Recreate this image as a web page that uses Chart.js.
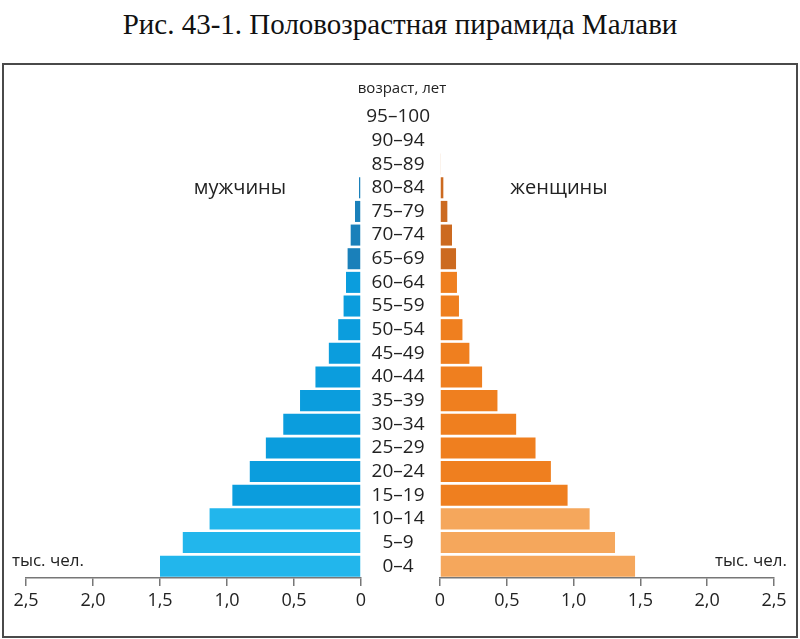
<!DOCTYPE html>
<html lang="ru">
<head>
<meta charset="utf-8">
<script src="https://cdn.jsdelivr.net/npm/chart.js@4.4.1/dist/chart.umd.min.js"></script>
<style>
  html, body { margin: 0; padding: 0; background: #fff; }
  body { width: 800px; height: 639px; position: relative; overflow: hidden; font-family: "Open Sans", sans-serif; color: #222; }
  #title { position: absolute; left: 0; top: 8px; width: 800px; text-align: center; font-family: "Liberation Serif", serif; font-size: 29px; color: #111; }
  #frame { position: absolute; left: 2px; top: 63px; width: 796px; height: 575px; box-sizing: border-box; border: 2px solid #4a4a4a; }
  canvas { position: absolute; top: 0; }
  .lbl { position: absolute; white-space: nowrap; transform: translate(-50%, -50%); }
</style>
</head>
<body>
<div id="title">Рис. 43-1. Половозрастная пирамида Малави</div>
<div id="frame"></div>
<canvas id="maleChart" style="left:0"></canvas>
<canvas id="femaleChart" style="left:361px"></canvas>
<div class="lbl" style="left:402px; top:87px; font-size:15px;">возраст, лет</div>
<div class="lbl" style="left:240px; top:186px; font-size:20px;">мужчины</div>
<div class="lbl" style="left:559px; top:186px; font-size:20px;">женщины</div>
<div class="lbl" style="left:48px; top:559px; font-size:17px;">тыс. чел.</div>
<div class="lbl" style="left:751px; top:559px; font-size:17px;">тыс. чел.</div>
<script>
// возрастные группы, снизу вверх
const ages = ['0–4', '5–9', '10–14', '15–19', '20–24', '25–29', '30–34', '35–39', '40–44', '45–49',
  '50–54', '55–59', '60–64', '65–69', '70–74', '75–79', '80–84', '85–89', '90–94', '95–100'];
// тыс. чел.
const males = [1.50, 1.33, 1.13, 0.96, 0.83, 0.71, 0.58, 0.455, 0.34, 0.24,
  0.17, 0.13, 0.112, 0.10, 0.077, 0.045, 0.015, 0, 0, 0];
const females = [1.46, 1.31, 1.12, 0.955, 0.83, 0.715, 0.57, 0.43, 0.315, 0.22,
  0.168, 0.142, 0.127, 0.12, 0.09, 0.055, 0.025, 0.005, 0, 0];
const xTicks = [0, 0.5, 1.0, 1.5, 2.0, 2.5];

const maleColors = ['#22b6ec', '#0b9ddd', '#1a80ba'];
const femaleColors = ['#f5a75c', '#ef7f1f', '#cc6a20'];

function colorFor(palette) {
  return ages.map((a, i) => i < 3 ? palette[0] : (i < 13 ? palette[1] : palette[2]));
}

function fmt(v) {
  return v === 0 ? '0' : v.toFixed(1).replace('.', ',');
}

const H = 639;
const numFont = { family: 'Open Sans', size: 18 };

function xScale(reverse) {
  return {
    type: 'linear',
    min: 0,
    max: 2.5,
    reverse: reverse,
    afterBuildTicks: (s) => { s.ticks = xTicks.map(v => ({ value: v })); },
    afterFit: (s) => { s.height = 61; },
    grid: { drawOnChartArea: false, drawTicks: true, tickLength: 8, color: '#777', lineWidth: 1.5 },
    border: { display: true, color: '#777', width: 1.5 },
    ticks: { color: '#222', font: numFont, padding: 4, callback: (v) => fmt(v), maxRotation: 0 }
  };
}

function makeChart(id, width, data, colors, reverse, pad, showAges) {
  const cv = document.getElementById(id);
  cv.style.width = width + 'px';
  cv.style.height = H + 'px';
  return new Chart(cv.getContext('2d'), {
    type: 'bar',
    data: {
      labels: ages,
      datasets: [{
        data: data,
        backgroundColor: colorFor(colors),
        borderWidth: 0,
        barPercentage: 0.89,
        categoryPercentage: 1.0
      }]
    },
    options: {
      indexAxis: 'y',
      responsive: false,
      animation: false,
      layout: { padding: pad },
      scales: {
        x: xScale(reverse),
        y: {
          reverse: true,
          display: showAges,
          afterFit: (s) => { s.width = showAges ? 79 : 0; },
          grid: { display: false, drawTicks: false },
          border: { display: false },
          ticks: { color: '#222', font: { family: 'Open Sans', size: 19 }, crossAlign: 'center', padding: 10, autoSkip: false }
        }
      },
      plugins: { legend: { display: false }, tooltip: { enabled: false } }
    }
  });
}

// мужчины: область графика x 26..361
makeChart('maleChart', 400, males, maleColors, true, { left: 26, right: 39, top: 105, bottom: 0 }, false);
// женщины: ось возрастов 361..440, область 440..774
makeChart('femaleChart', 439, females, femaleColors, false, { left: 0, right: 26, top: 105, bottom: 0 }, true);
</script>
</body>
</html>
